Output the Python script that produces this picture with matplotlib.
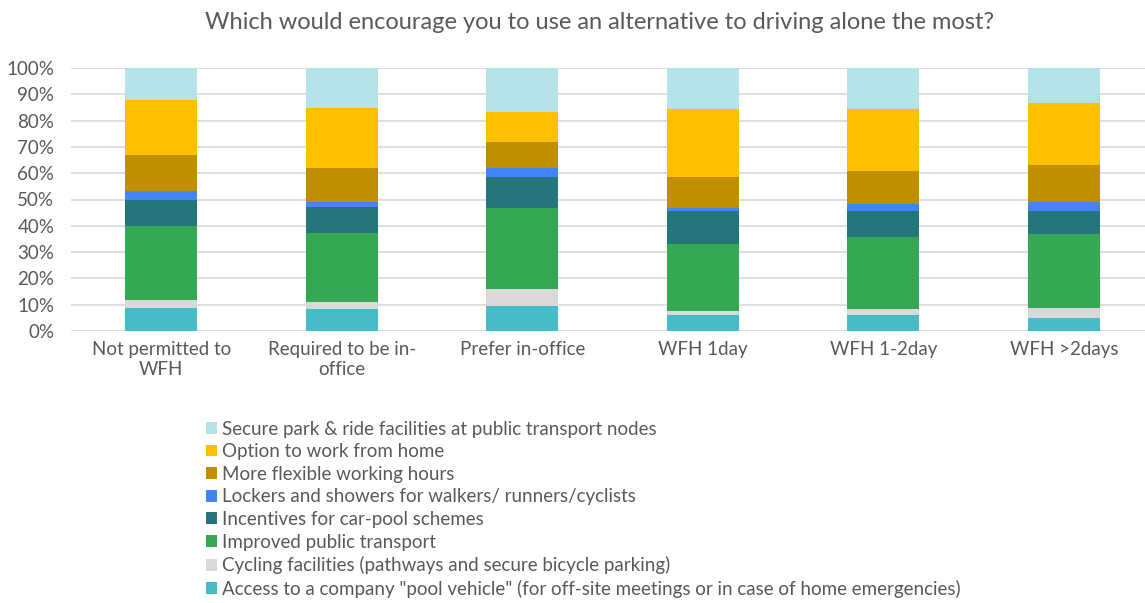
import matplotlib.pyplot as plt
import numpy as np

plt.rcParams['font.family'] = ['Lato', 'DejaVu Sans']

# categories and values (% of respondents per group)
groups = ["Not permitted to\nWFH", "Required to be in-\noffice", "Prefer in-office",
          "WFH 1day", "WFH 1-2day", "WFH >2days"]

series = [
    "Access to a company \"pool vehicle\" (for off-site meetings or in case of home emergencies)",
    "Cycling facilities (pathways and secure bicycle parking)",
    "Improved public transport",
    "Incentives for car-pool schemes",
    "Lockers and showers for walkers/ runners/cyclists",
    "More flexible working hours",
    "Option to work from home",
    "Secure park & ride facilities at public transport nodes",
]

pool_vehicle = [8.9, 8.2, 9.5, 6.0, 6.0, 4.8]
cycling = [2.8, 3.0, 6.4, 1.7, 2.2, 4.1]
public_transport = [28.1, 26.2, 30.9, 25.3, 27.6, 28.0]
car_pool = [9.9, 9.9, 11.8, 12.7, 10.0, 8.9]
lockers = [3.6, 1.9, 3.3, 1.1, 2.4, 3.1]
flexible_hours = [13.5, 12.9, 10.1, 11.7, 12.7, 14.4]
work_from_home = [21.0, 22.8, 11.1, 25.9, 23.5, 23.4]
park_ride = [12.2, 15.1, 16.9, 15.6, 15.6, 13.3]

values = [pool_vehicle, cycling, public_transport, car_pool,
          lockers, flexible_hours, work_from_home, park_ride]
colors = ["#46BDC6", "#D9D9D9", "#34A853", "#25767A",
          "#4285F4", "#BF8F00", "#FFC000", "#B4E4E8"]

text_col = "#595959"

fig = plt.figure(figsize=(11.45, 6.03), dpi=100)
ax = fig.add_axes([71 / 1145, 272 / 603, 1074 / 1145, 263 / 603])

x = np.arange(len(groups))
bottom = np.zeros(len(groups))
handles = []
for name, vals, col in zip(series, values, colors):
    vals = np.array(vals)
    b = ax.bar(x, vals, 0.4, bottom=bottom, color=col, label=name, zorder=2)
    handles.append(b)
    bottom += vals

ax.set_ylim(0, 100)
ax.set_xlim(-0.5, 5.45)
ax.set_yticks(np.arange(0, 101, 10))
ax.set_yticklabels([f"{v}%" for v in range(0, 101, 10)])
ax.set_xticks(x)
ax.set_xticklabels(groups)
ax.grid(axis='y', color="#D9D9D9", linewidth=1.2, zorder=0)
for s in ax.spines.values():
    s.set_visible(False)
ax.tick_params(length=0, colors=text_col, labelsize=13.5)
ax.tick_params(axis='x', pad=7)
ax.tick_params(axis='y', pad=12)

fig.text(0.524, 0.963, "Which would encourage you to use an alternative to driving alone the most?",
         ha='center', va='center', fontsize=17, color=text_col)

leg = fig.legend(handles[::-1], series[::-1], loc='upper left',
                 bbox_to_anchor=(198 / 1145, 1 - 413 / 603), frameon=False,
                 fontsize=13.5, handlelength=0.6, handleheight=0.6,
                 handletextpad=0.3, labelspacing=0.3, borderaxespad=0)
for t in leg.get_texts():
    t.set_color(text_col)

fig.savefig("out.png", dpi=100)
